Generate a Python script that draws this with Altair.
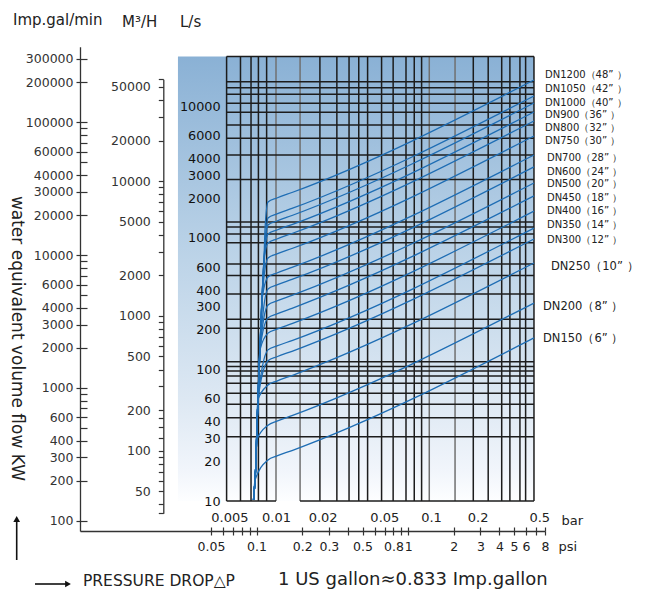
import json
import altair as alt
import pandas as pd

FONT = "DejaVu Sans"

# ---------------- data ----------------
dn_names = ["DN1200（48” ）", "DN1050（42” ）", "DN1000（40” ）", "DN900（36” ）",
            "DN800（32” ）", "DN750（30” ）", "DN700（28” ）", "DN600（24” ）",
            "DN500（20” ）", "DN450（18” ）", "DN400（16” ）", "DN350（14” ）",
            "DN300（12” ）", "DN250（10” ）", "DN200（8” ）", "DN150（6” ）"]

# common low-flow trunk (pressure drop in bar, flow in L/s)
trunk_bar = [0.00716, 0.00732, 0.00743, 0.00749, 0.00765, 0.00788, 0.00812, 0.00837, 0.00849]
trunk_ls = [10.2, 14.4, 20.5, 29, 59, 141, 338, 680, 1150]
# knee of each curve, read at these pressure drops
knee_bar = [0.00888, 0.01014, 0.01268]
knee1_ls = [1878, 1419, 1255, 1072, 916, 705, 505, 410, 309, 247, 189, 141, 116.5, 76.1, 37.7, 20.5]
knee2_ls = [2015, 1523, 1347, 1150, 983, 756, 542, 440, 332, 265, 203, 151, 125, 81.7, 40.5, 22.0]
knee3_ls = [2218, 1677, 1483, 1266, 1082, 832, 597, 484, 366, 292, 223.5, 166, 137.6, 90, 44.6, 24.2]
# flow at the right edge of the grid
end_bar = 0.462
end_ls = [15900, 12020, 10630, 9080, 7760, 5970, 4280, 3470, 2620, 2090, 1600, 1190, 983, 645, 320, 174]

# label anchors
label_ls = [17360, 13590, 10720, 8617, 6803, 5467, 4037, 3193, 2552, 2015, 1605, 1245, 966, 597, 297, 170]
label_bar = [0.544] * 6 + [0.560] * 7 + [0.594, 0.528, 0.528]
label_size = [10] * 13 + [11.5] * 3

# grid lines
grid_bar = [0.0048, 0.0059, 0.0069, 0.0077, 0.0087, 0.01, 0.0143, 0.0192, 0.0247, 0.0296, 0.0342, 0.039,
            0.048, 0.057, 0.069, 0.078, 0.087, 0.0975, 0.143, 0.1875, 0.234, 0.286, 0.323, 0.375, 0.408, 0.462]
grid_bar_grey = [0.01, 0.0143, 0.0975, 0.143]
grid_ls = [24000, 15450, 13900, 12390, 10570, 9030, 7230, 5730, 4280, 2790, 1324, 1213, 1072, 921,
           634, 519, 375, 241, 206, 114.6, 105.4, 97.5, 89.3, 78.5, 65.9, 54.4, 43, 30.8]
grid_bottom = [(0.0048, 0.01), (0.0143, 0.462)]

# axis ticks
ls_labels = [10, 20, 30, 40, 60, 100, 200, 300, 400, 600, 1000, 2000, 3000, 4000, 6000, 10000]
igm_major = [100, 200, 300, 400, 600, 1000, 2000, 3000, 4000, 6000, 10000, 20000, 30000, 40000,
             60000, 100000, 200000, 300000]
igm_minor = [500, 700, 800, 900, 5000, 7000, 8000, 9000, 50000, 70000, 80000, 90000]
m3_major = [50, 100, 200, 500, 1000, 2000, 5000, 10000, 20000, 50000]
m3_minor = [34.3, 40, 60, 70, 80, 90, 125, 150, 175, 300, 400, 600, 700, 800, 900, 3000, 4000,
            6000, 7000, 8000, 9000, 30000, 40000, 57000]
bar_labels = [0.005, 0.01, 0.02, 0.05, 0.1, 0.2, 0.5]
psi_major = [0.05, 0.1, 0.2, 0.3, 0.5, 0.8, 1, 2, 3, 4, 5, 6, 8]
psi_minor = [0.06, 0.07, 0.08, 0.09, 0.4, 0.6, 0.7, 0.9, 7]

# ---------------- scales ----------------
W, H = 630, 581
X_BAR = alt.Scale(type="log", domain=[0.0048, 0.5], range=[218.6, 531.3], nice=False)
Y_LS = alt.Scale(type="log", domain=[10, 24000], range=[493, 48.5], nice=False)
Y_IGM = alt.Scale(type="log", domain=[83.6, 371000], range=[523, 38.7], nice=False)
Y_M3 = alt.Scale(type="log", domain=[34.3, 57000], range=[505.3, 71.2], nice=False)
X_PSI = alt.Scale(type="log", domain=[0.00684, 8], range=[72, 537], nice=False)

# ---------------- main plot ----------------
bg_df = pd.DataFrame({"b1": [0.00233], "b2": [0.462], "q1": [10], "q2": [24000]})
grad = alt.LinearGradient(
    gradient="linear", x1=0, x2=0, y1=0, y2=1,
    stops=[alt.GradientStop(offset=0, color="#8ab1d5"),
           alt.GradientStop(offset=0.43, color="#bad2e7"),
           alt.GradientStop(offset=0.77, color="#dde8f3"),
           alt.GradientStop(offset=0.93, color="#f1f5fb"),
           alt.GradientStop(offset=1, color="#fdfeff")])
bg = alt.Chart(bg_df).mark_rect(color=grad).encode(
    x=alt.X("b1:Q", scale=X_BAR, axis=None), x2="b2:Q",
    y=alt.Y("q1:Q", scale=Y_LS, axis=None), y2="q2:Q")

vg_df = pd.DataFrame({"bar": grid_bar, "q1": 10, "q2": 24000,
                      "c": ["#707070" if b in grid_bar_grey else "#1c1c1c" for b in grid_bar]})
vgrid = alt.Chart(vg_df).mark_rule(strokeWidth=1.5).encode(
    x=alt.X("bar:Q", scale=X_BAR, axis=None),
    y=alt.Y("q1:Q", scale=Y_LS, axis=None), y2="q2:Q",
    color=alt.Color("c:N", scale=None))

hg_rows = [{"q": q, "b1": 0.0048, "b2": 0.462} for q in grid_ls]
hg_rows += [{"q": 10, "b1": a, "b2": b} for a, b in grid_bottom]
hgrid = alt.Chart(pd.DataFrame(hg_rows)).mark_rule(strokeWidth=1.5, color="#1c1c1c").encode(
    y=alt.Y("q:Q", scale=Y_LS, axis=None),
    x=alt.X("b1:Q", scale=X_BAR, axis=None), x2="b2:Q")

rows = []
for k, name in enumerate(dn_names):
    pts = [(b, q) for b, q in zip(trunk_bar, trunk_ls) if q < 0.8 * knee1_ls[k]]
    pts += list(zip(knee_bar, [knee1_ls[k], knee2_ls[k], knee3_ls[k]]))
    pts.append((end_bar, end_ls[k]))
    for i, (b, q) in enumerate(pts):
        rows.append({"dn": name, "i": i, "bar": b, "ls": q})
curve_df = pd.DataFrame(rows)

curves = alt.Chart(curve_df).mark_line(color="#1e6db4", strokeWidth=1.3,
                                       interpolate="monotone").encode(
    x=alt.X("bar:Q", scale=X_BAR, axis=None),
    y=alt.Y("ls:Q", scale=Y_LS, axis=None),
    detail="dn:N", order="i:Q")

lab_df = pd.DataFrame({"name": dn_names, "ls": label_ls, "bar": label_bar, "fs": label_size})
dn_labels = alt.Chart(lab_df).mark_text(align="left", baseline="middle", font=FONT,
                                        color="#222").encode(
    x=alt.X("bar:Q", scale=X_BAR, axis=None),
    y=alt.Y("ls:Q", scale=Y_LS, axis=None),
    text="name:N", size=alt.Size("fs:Q", scale=None))

main = alt.layer(bg, vgrid, hgrid, curves, dn_labels)

# ---------------- axes ----------------
ls_df = pd.DataFrame({"v": ls_labels})
ls_layer = alt.Chart(ls_df).mark_point(opacity=0).encode(
    y=alt.Y("v:Q", scale=Y_LS, axis=alt.Axis(
        orient="left", offset=-218.6, values=ls_labels, format="d", ticks=False,
        tickSize=0, domain=False, grid=False, labelPadding=6.5, labelFontSize=12.8,
        labelColor="#111", labelOverlap=False, labelFlush=False, title=None, zindex=2)))

bar_df = pd.DataFrame({"v": bar_labels})
bar_layer = alt.Chart(bar_df).mark_point(opacity=0).encode(
    x=alt.X("v:Q", scale=X_BAR, axis=alt.Axis(
        orient="bottom", offset=493 - H, values=bar_labels, format="~g",
        ticks=False, tickSize=0, domain=False, grid=False, labelPadding=10.5,
        labelFontSize=13, labelOverlap=False, labelFlush=False, labelColor="#222",
        title="bar", titleX=553, titleY=23, titleAlign="left",
        titleBaseline="alphabetic", titleFontSize=13, titleFontWeight="normal",
        titleColor="#222", zindex=2)))

igm_df = pd.DataFrame({"v": sorted(igm_major + igm_minor)})
igm_left = alt.Chart(igm_df).mark_point(opacity=0).encode(
    y=alt.Y("v:Q", scale=Y_IGM, axis=alt.Axis(
        orient="left", offset=-72, values=igm_major, format="d", tickSize=4, tickWidth=1.2,
        labelPadding=3, domain=True, domainWidth=1.3, grid=False, labelFontSize=12.5,
        labelColor="#333", labelOverlap=False, labelFlush=False, title=None, zindex=2)))
igm_right = alt.Chart(igm_df).mark_point(opacity=0).encode(
    y=alt.Y("v:Q", scale=Y_IGM, axis=alt.Axis(
        orient="right", offset=72 - W, values=sorted(igm_major + igm_minor), tickSize=7,
        tickWidth=1.2, labels=False, domain=False, grid=False, title=None, zindex=2)))

m3_df = pd.DataFrame({"v": sorted(m3_major + m3_minor)})
m3_expr = "indexof(%s, datum.value) >= 0 ? format(datum.value, 'd') : ''" % json.dumps(m3_major)
m3_axis = alt.Chart(m3_df).mark_point(opacity=0).encode(
    y=alt.Y("v:Q", scale=Y_M3, axis=alt.Axis(
        orient="left", offset=-155.3, values=sorted(m3_major + m3_minor), labelExpr=m3_expr,
        tickSize=5, tickWidth=1.2, labelPadding=8, domain=True, domainWidth=1.3, grid=False,
        labelFontSize=12.5, labelColor="#333", labelOverlap=False, labelFlush=False,
        title=None, zindex=2)))

psi_df = pd.DataFrame({"v": sorted(psi_major + psi_minor)})
psi_expr = "indexof(%s, datum.value) >= 0 ? datum.label : ''" % json.dumps(psi_major)
psi_bottom = alt.Chart(psi_df).mark_point(opacity=0).encode(
    x=alt.X("v:Q", scale=X_PSI, axis=alt.Axis(
        orient="bottom", offset=523 - H, values=sorted(psi_major + psi_minor), format="~g",
        labelExpr=psi_expr, tickSize=4, tickWidth=1.2, labelPadding=5, domain=True,
        domainWidth=1.3, grid=False, labelFontSize=12.5, labelColor="#222",
        labelOverlap=False, labelFlush=False, title="psi", titleX=550, titleY=19,
        titleAlign="left", titleBaseline="alphabetic", titleFontSize=13,
        titleFontWeight="normal", titleColor="#222", zindex=2)))
psi_top = alt.Chart(psi_df).mark_point(opacity=0).encode(
    x=alt.X("v:Q", scale=X_PSI, axis=alt.Axis(
        orient="top", offset=-523, values=sorted(psi_major + psi_minor), tickSize=4,
        tickWidth=1.2, labels=False, domain=False, grid=False, title=None, zindex=2)))

# ---------------- annotations ----------------
ONE = alt.Data(values=[{}])


def txt(s, x, y, size, angle=0, align="left", color="#222"):
    return alt.Chart(ONE).mark_text(text=s, font=FONT, fontSize=size, align=align,
                                    baseline="middle", angle=angle, color=color).encode(
        x=alt.value(x), y=alt.value(y))


texts = [
    txt("Imp.gal/min", 5, 11.5, 15),
    txt("M³/H", 114, 13.5, 15),
    txt("L/s", 172, 13.5, 15),
    txt("water equivalent volume flow KW", 8.5, 330.5, 17, angle=90, align="center"),
    txt("PRESSURE DROP△P", 75, 572.5, 15.5),
    txt("1 US gallon≈0.833 Imp.gallon", 270, 571.5, 18),
]
arrow_h = alt.Chart(ONE).mark_rule(color="#111", strokeWidth=1.6).encode(
    x=alt.value(27), x2=alt.value(58), y=alt.value(576))
head_h = alt.Chart(ONE).mark_point(shape="triangle-right", filled=True, color="#111",
                                   size=45, opacity=1).encode(x=alt.value(60), y=alt.value(576))
arrow_v = alt.Chart(ONE).mark_rule(color="#111", strokeWidth=1.6).encode(
    x=alt.value(8.7), y=alt.value(513), y2=alt.value(552))
head_v = alt.Chart(ONE).mark_point(shape="triangle-up", filled=True, color="#111",
                                   size=45, opacity=1).encode(x=alt.value(8.7), y=alt.value(511))

chart = alt.layer(main, ls_layer, bar_layer, igm_left, igm_right, m3_axis, psi_bottom, psi_top,
                  arrow_h, head_h, arrow_v, head_v, *texts).resolve_scale(
    x="independent", y="independent").properties(
    width=W, height=H, autosize=alt.AutoSizeParams(type="none"), padding=0,
    background="white").configure_view(stroke=None).configure_axis(
    labelFont=FONT, titleFont=FONT, domainColor="#333", tickColor="#333")

chart.save("out.html", embed_options={"renderer": "svg", "actions": False})
